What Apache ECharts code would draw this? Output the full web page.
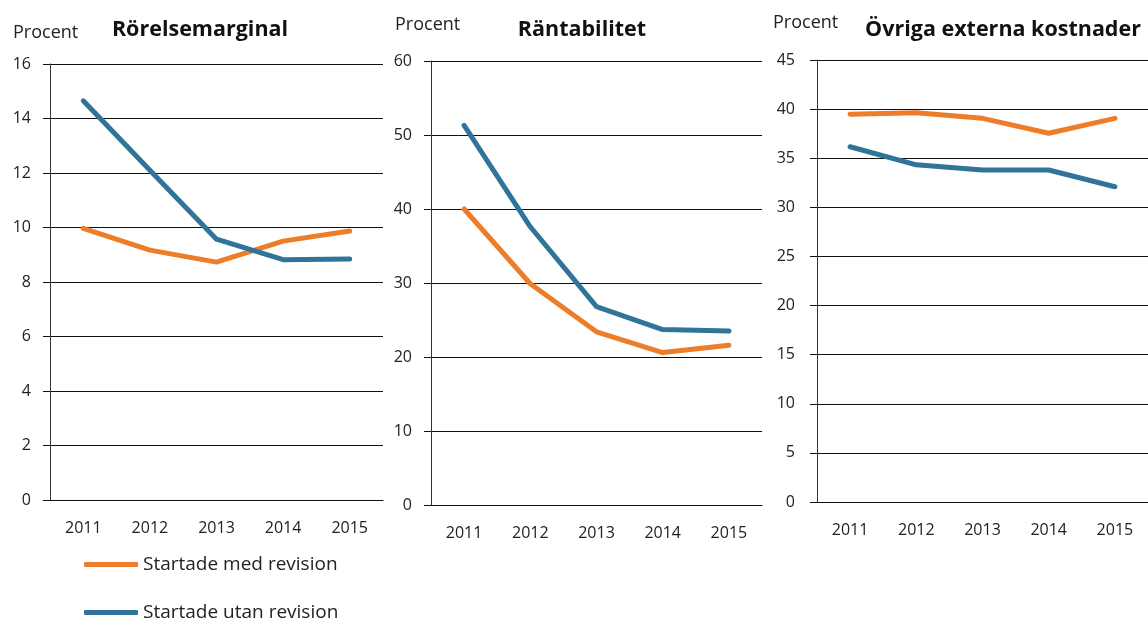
<!DOCTYPE html>
<html>
<head>
<meta charset="utf-8">
<script src="https://cdn.jsdelivr.net/npm/echarts@6/dist/echarts.min.js"></script>
<style>html,body{margin:0;padding:0;background:#fff}#c{width:1148px;height:620px}</style>
</head>
<body>
<div id="c"></div>
<script>
const years = ['2011','2012','2013','2014','2015'];
const seriesNames = ['Startade med revision','Startade utan revision'];
const panelTitles = ['Rörelsemarginal','Räntabilitet','Övriga externa kostnader'];
const unitLabel = 'Procent';

const rorelseMed = [9.97, 9.17, 8.73, 9.5, 9.87];
const rorelseUtan = [14.65, 12.1, 9.57, 8.82, 8.84];
const rantaMed = [40.0, 29.9, 23.4, 20.6, 21.6];
const rantaUtan = [51.3, 37.6, 26.8, 23.7, 23.5];
const ovrigaMed = [39.47, 39.62, 39.06, 37.54, 39.06];
const ovrigaUtan = [36.17, 34.33, 33.8, 33.8, 32.1];

const yMax = [16, 60, 45];
const yStep = [2, 10, 5];

const ORANGE = '#EE7D2A', BLUE = '#30749A';
const FONT = 'Open Sans';

const grids = [
  {left: 50, top: 64, width: 333, height: 436},
  {left: 431, top: 61, width: 331, height: 444},
  {left: 817, top: 60, width: 335, height: 442}
];
const yLabelMargin = [19, 19, 22];
const xLabelMargin = [20, 20, 20];

const xAxes = grids.map((g, i) => ({
  type: 'category', gridIndex: i, data: years, boundaryGap: true,
  axisLine: {show: true, lineStyle: {color: '#111', width: 1}},
  axisTick: {show: false},
  axisLabel: {color: '#222', fontSize: 16, fontFamily: FONT, margin: xLabelMargin[i]},
  splitLine: {show: false}
}));
const yAxes = grids.map((g, i) => ({
  type: 'value', gridIndex: i, min: 0, max: yMax[i], interval: yStep[i],
  axisLine: {show: true, lineStyle: {color: '#333', width: 1}},
  axisTick: {show: true, length: 7, lineStyle: {color: '#111', width: 1}},
  axisLabel: {color: '#222', fontSize: 16, fontFamily: FONT, margin: yLabelMargin[i]},
  splitLine: {show: true, lineStyle: {color: '#111', width: 1}}
}));

const dataSets = [[rorelseMed, rorelseUtan],[rantaMed, rantaUtan],[ovrigaMed, ovrigaUtan]];
const series = [];
dataSets.forEach((pair, i) => {
  pair.forEach((vals, k) => {
    series.push({
      name: seriesNames[k], type: 'line', xAxisIndex: i, yAxisIndex: i,
      data: vals, symbol: 'none', smooth: false,
      lineStyle: {color: k === 0 ? ORANGE : BLUE, width: 5, cap: 'round', join: 'round'},
      itemStyle: {color: k === 0 ? ORANGE : BLUE},
      z: k === 0 ? 3 : 4
    });
  });
});

const unitPos = [{left: 13, top: 24}, {left: 395, top: 16}, {left: 773, top: 14}];
const titlePos = [{x: 200, top: 19}, {x: 582, top: 19}, {x: 1003, top: 19}];
const titles = [];
panelTitles.forEach((t, i) => {
  titles.push({text: t, left: titlePos[i].x, top: titlePos[i].top, textAlign: 'center', padding: 0,
    textStyle: {fontFamily: FONT, fontWeight: 'bold', fontSize: 21.5, color: '#111'}});
  titles.push({text: unitLabel, left: unitPos[i].left, top: unitPos[i].top, padding: 0,
    textStyle: {fontFamily: FONT, fontWeight: 'normal', fontSize: 18, color: '#222'}});
});

const legendCommon = {
  left: 84, padding: 0, icon: 'roundRect', itemWidth: 54, itemHeight: 5, itemGap: 10,
  textStyle: {fontFamily: FONT, fontSize: 19, color: '#222'},
  selectedMode: false
};

const option = {
  animation: false,
  backgroundColor: '#fff',
  title: titles,
  grid: grids,
  xAxis: xAxes,
  yAxis: yAxes,
  legend: [
    Object.assign({}, legendCommon, {top: 555, data: [{name: seriesNames[0], itemStyle: {color: ORANGE}}]}),
    Object.assign({}, legendCommon, {top: 603, data: [{name: seriesNames[1], itemStyle: {color: BLUE}}]})
  ],
  series: series
};
const chart = echarts.init(document.getElementById('c'), null, {renderer: 'canvas'});
chart.setOption(option);
</script>
</body>
</html>
